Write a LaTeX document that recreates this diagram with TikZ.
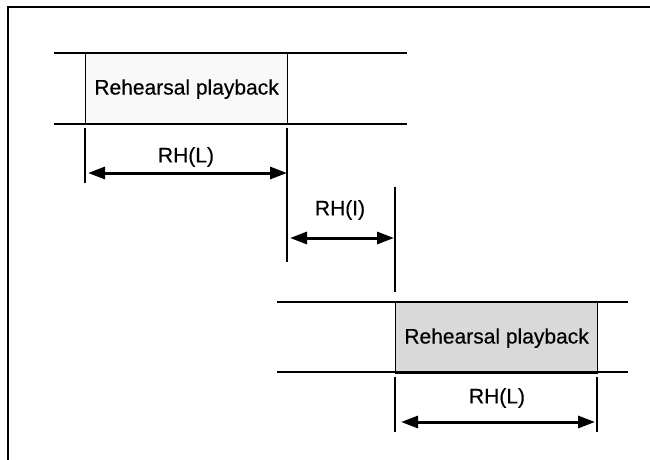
\documentclass[tikz,border=0pt]{standalone}
\usepackage{fontspec}
\setmainfont{Liberation Sans}
\newfontfamily\heavyfont{Liberation Sans}[FakeBold=0.4]
\usetikzlibrary{arrows.meta}
\begin{document}
\begin{tikzpicture}[x=1pt,y=-1pt,
  band/.style={line width=2.4pt},
  tickline/.style={line width=1.2pt},
  dimarrow/.style={line width=3pt,{Triangle[length=17pt,width=12pt]}-{Triangle[length=17pt,width=12pt]}},
  lbl/.style={font=\heavyfont\fontsize{21}{25}\selectfont, inner sep=0pt},
  pbox/.style={draw, line width=1.2pt, inner sep=0pt, minimum width=202pt, minimum height=71pt, anchor=north west, font=\heavyfont\fontsize{21}{25}\selectfont}]
\useasboundingbox (0,0) rectangle (650,460);
% frame
\coordinate (f1) at (8,460); \coordinate (f2) at (8,7); \coordinate (f3) at (650,7);
\draw[line width=1.6pt] (f1) -- (f2) -- (f3);
% upper band
\node[pbox, fill=gray!5] (b1) at (85,53) {\raisebox{-3pt}{Rehearsal playback}};
\coordinate (u1) at (54,53); \coordinate (u2) at (407,53);
\coordinate (u3) at (54,124); \coordinate (u4) at (407,124);
\draw[band] (u1) -- (u2);
\draw[band] (u3) -- (u4);
% ticks for upper
\coordinate (t1a) at (85,128); \coordinate (t1b) at (85,183);
\coordinate (t2a) at (287,128); \coordinate (t2b) at (287,262);
\draw[tickline] (t1a) -- (t1b);
\draw[tickline] (t2a) -- (t2b);
\node[lbl] (l1) at (186,157) {RH(L)};
\coordinate (a1) at (85,173); \coordinate (a2) at (287,173);
\draw[dimarrow, shorten <=3pt] (a1) -- (a2);
% interval
\coordinate (t3a) at (395,187); \coordinate (t3b) at (395,292);
\draw[tickline, line width=1.6pt] (t3a) -- (t3b);
\node[lbl] (l2) at (340,210) {RH(I)};
\coordinate (a3) at (287,238); \coordinate (a4) at (395,238);
\draw[dimarrow, shorten <=3pt, shorten >=1pt] (a3) -- (a4);
% lower band
\node[pbox, fill=gray!30] (b2) at (395,302) {\raisebox{-3pt}{Rehearsal playback}};
\coordinate (v1) at (277,302); \coordinate (v2) at (628,302);
\coordinate (v3) at (277,372); \coordinate (v4) at (628,372);
\draw[band] (v1) -- (v2);
\draw[band] (v3) -- (v4);
\coordinate (t4a) at (395,377); \coordinate (t4b) at (395,432);
\coordinate (t5a) at (597,377); \coordinate (t5b) at (597,432);
\draw[tickline] (t4a) -- (t4b);
\draw[tickline] (t5a) -- (t5b);
\node[lbl] (l3) at (497,398) {RH(L)};
\coordinate (a5) at (395,422); \coordinate (a6) at (597,422);
\draw[dimarrow, shorten <=6pt, shorten >=2pt] (a5) -- (a6);
\end{tikzpicture}
\end{document}
